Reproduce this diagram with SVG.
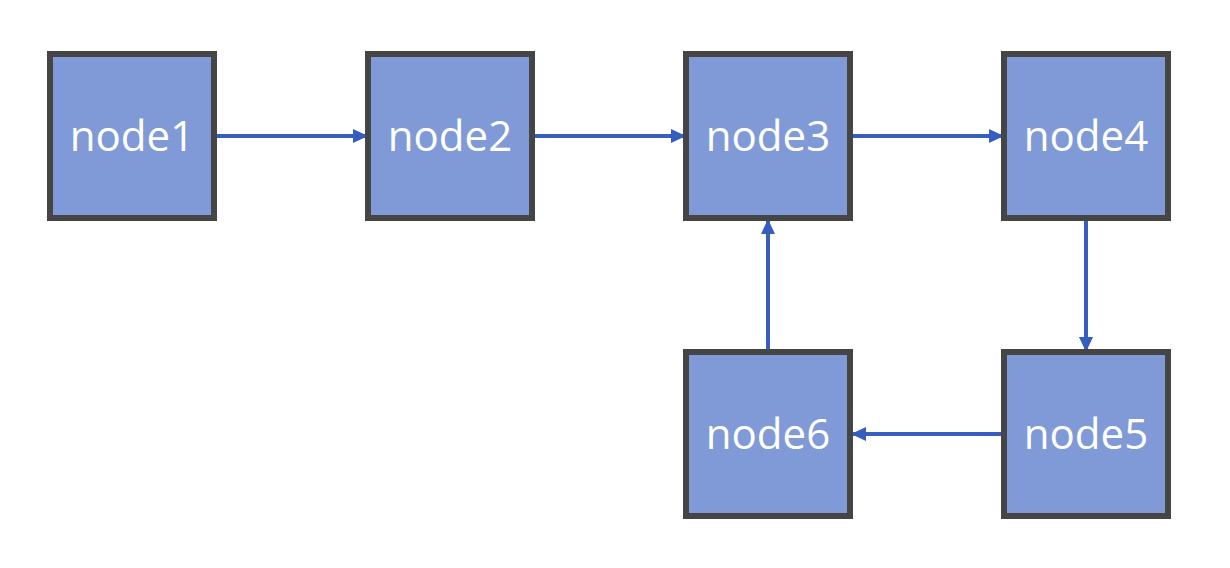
<svg xmlns="http://www.w3.org/2000/svg" width="1230" height="568" viewBox="0 0 1230 568">
<style>
.node rect{fill:#7F9AD6;stroke:#454545;stroke-width:6}
.node text{fill:#ffffff;font-family:"Open Sans","Noto Sans","Liberation Sans",sans-serif;font-size:42px;text-anchor:middle}
.edge{stroke:#365EBF;stroke-width:4;fill:none;marker-end:url(#ah)}
</style>
<defs>
<marker id="ah" markerUnits="userSpaceOnUse" markerWidth="16" markerHeight="16" viewBox="0 0 16 16" refX="15" refY="8" orient="auto">
<path d="M0,1 L15,8 L0,15 Z" fill="#365EBF"/>
</marker>
</defs>
<g id="connectors">
<line class="edge" x1="215" y1="136" x2="368" y2="136"/>
<line class="edge" x1="533" y1="136" x2="686" y2="136"/>
<line class="edge" x1="851" y1="136" x2="1004" y2="136"/>
<line class="edge" x1="1086" y1="219" x2="1086" y2="352"/>
<line class="edge" x1="1003" y1="434" x2="851" y2="434"/>
<line class="edge" x1="768" y1="351" x2="768" y2="219"/>
</g>
<g id="node1" class="node"><rect x="50" y="54" width="164" height="164"/><text x="132" y="151">node1</text></g>
<g id="node2" class="node"><rect x="368" y="54" width="164" height="164"/><text x="450" y="151">node2</text></g>
<g id="node3" class="node"><rect x="686" y="54" width="164" height="164"/><text x="768" y="151">node3</text></g>
<g id="node4" class="node"><rect x="1004" y="54" width="164" height="164"/><text x="1086" y="151">node4</text></g>
<g id="node5" class="node"><rect x="1004" y="352" width="164" height="164"/><text x="1086" y="449">node5</text></g>
<g id="node6" class="node"><rect x="686" y="352" width="164" height="164"/><text x="768" y="449">node6</text></g>
</svg>
